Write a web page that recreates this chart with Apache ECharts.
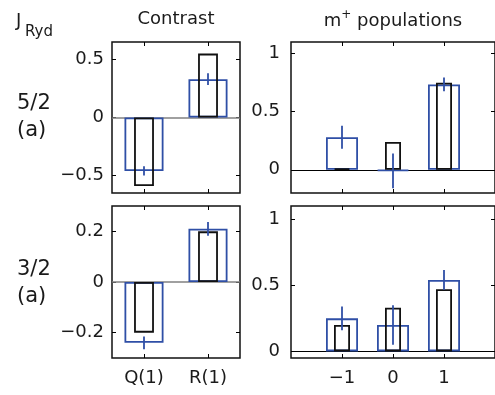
<!DOCTYPE html>
<html>
<head>
<meta charset="utf-8">
<script src="https://cdn.jsdelivr.net/npm/echarts@6/dist/echarts.min.js"></script>
<style>html,body{margin:0;padding:0;background:#fff}#c{width:495px;height:395px}</style>
</head>
<body>
<div id="c"></div>
<script>
// ---- data ----
var contrastCats = ['Q(1)', 'R(1)'];
var contrast52Meas = [-0.46, 0.33];
var contrast52Err = [0.04, 0.05];
var contrast52Theory = [-0.59, 0.55];
var contrast32Meas = [-0.24, 0.21];
var contrast32Err = [0.025, 0.027];
var contrast32Theory = [-0.20, 0.20];

var mValues = [-1, 0, 1];
var pop52Meas = [0.28, -0.01, 0.735];
var pop52Err = [0.10, 0.15, 0.06];
var pop52Theory = [0.01, 0.24, 0.75];
var pop32Meas = [0.25, 0.20, 0.54];
var pop32Err = [0.09, 0.15, 0.075];
var pop32Theory = [0.20, 0.33, 0.47];

var contrast52Ticks = [-0.5, 0, 0.5];
var contrast32Ticks = [-0.2, 0, 0.2];
var popTicks = [0, 0.5, 1];
var mTicks = [-1, 0, 1];

// ---- chart ----
var FONT = 'DejaVu Sans';
var BLUE = '#2f4fa6';
var chart = echarts.init(document.getElementById('c'), null, {renderer: 'canvas'});

function fmt(v) { return v < 0 ? '\u2212' + Math.abs(v) : String(v); }

var panels = [
  {grid: {left: 112, top: 42, width: 128, height: 151}, cat: true, ymin: -0.65, ymax: 0.65, yticks: contrast52Ticks,
   meas: contrast52Meas, err: contrast52Err, theory: contrast52Theory, showX: false, zeroColor: '#808080', labelMargin: 8},
  {grid: {left: 291, top: 42, width: 205, height: 151}, cat: false, ymin: -0.2, ymax: 1.1, yticks: popTicks,
   meas: pop52Meas, err: pop52Err, theory: pop52Theory, showX: false, zeroColor: '#000', labelMargin: 11},
  {grid: {left: 112, top: 206, width: 128, height: 152}, cat: true, ymin: -0.3, ymax: 0.3, yticks: contrast32Ticks,
   meas: contrast32Meas, err: contrast32Err, theory: contrast32Theory, showX: true, zeroColor: '#808080', labelMargin: 8},
  {grid: {left: 291, top: 206, width: 205, height: 152}, cat: false, ymin: -0.05, ymax: 1.1, yticks: popTicks,
   meas: pop32Meas, err: pop32Err, theory: pop32Theory, showX: true, zeroColor: '#000', labelMargin: 11}
];

var grids = [], xAxes = [], yAxes = [], series = [];
var tick = {show: true, inside: true, length: 4, lineStyle: {color: '#000', width: 1}};

panels.forEach(function (p, g) {
  grids.push(Object.assign({show: true, borderColor: '#111', borderWidth: 1.5, backgroundColor: 'transparent'}, p.grid));
  ['bottom', 'top'].forEach(function (pos, k) {
    var ax = {
      gridIndex: g, position: pos,
      axisLine: {show: false, onZero: false},
      splitLine: {show: false},
      axisLabel: {show: k === 0 && p.showX, color: '#1a1a1a', fontFamily: FONT, fontSize: 18, margin: 11},
      axisTick: Object.assign({}, tick)
    };
    if (p.cat) {
      ax.type = 'category'; ax.data = contrastCats; ax.axisTick.alignWithLabel = true;
    } else {
      ax.type = 'value'; ax.min = -2; ax.max = 2;
      ax.axisTick.customValues = mTicks; ax.axisLabel.customValues = mTicks;
      ax.axisLabel.formatter = fmt;
    }
    xAxes.push(ax);
  });
  ['left', 'right'].forEach(function (pos, k) {
    yAxes.push({
      gridIndex: g, type: 'value', position: pos, min: p.ymin, max: p.ymax,
      axisLine: {show: false, onZero: false},
      splitLine: {show: false},
      axisTick: Object.assign({customValues: p.yticks}, tick),
      axisLabel: {show: k === 0, customValues: p.yticks, formatter: fmt, color: '#1a1a1a',
                  fontFamily: FONT, fontSize: 18, margin: p.labelMargin}
    });
  });

  var measData = p.meas.map(function (v, i) { return p.cat ? v : [mValues[i], v]; });
  var theoryData = p.theory.map(function (v, i) { return p.cat ? v : [mValues[i], v]; });
  var errData = p.meas.map(function (v, i) { return [p.cat ? i : mValues[i], v, p.err[i]]; });

  series.push({
    type: 'bar', xAxisIndex: 2 * g, yAxisIndex: 2 * g, data: measData,
    barWidth: p.cat ? '61%' : 32, z: 2,
    itemStyle: {color: 'rgba(0,0,0,0)', borderColor: BLUE, borderWidth: 1.8},
    markLine: {silent: true, symbol: 'none', label: {show: false},
               lineStyle: {color: p.zeroColor, type: 'solid', width: p.cat ? 1.5 : 1},
               data: [{yAxis: 0}], z: 1},
    animation: false
  });
  series.push({
    type: 'bar', xAxisIndex: 2 * g + 1, yAxisIndex: 2 * g, data: theoryData,
    barWidth: p.cat ? '31%' : 16, z: 3,
    itemStyle: {color: 'rgba(0,0,0,0)', borderColor: '#111', borderWidth: 1.8},
    animation: false
  });
  series.push({
    type: 'custom', xAxisIndex: 2 * g, yAxisIndex: 2 * g, data: errData, z: 4,
    renderItem: function (params, api) {
      var x = api.value(0), y = api.value(1), e = api.value(2);
      var a = api.coord([x, y - e]), b = api.coord([x, y + e]);
      return {type: 'line', shape: {x1: a[0], y1: a[1], x2: b[0], y2: b[1]},
              style: {stroke: BLUE, lineWidth: 1.8}};
    },
    animation: false
  });
});

function txt(x, y, text, size, align, rich) {
  return {type: 'text', x: x, y: y, silent: true,
          style: {text: text, fontFamily: FONT, fontSize: size, fill: '#1a1a1a',
                   align: align || 'left', verticalAlign: 'middle', rich: rich}};
}

chart.setOption({
  animation: false,
  grid: grids, xAxis: xAxes, yAxis: yAxes, series: series,
  graphic: [
    txt(16, 21, 'J', 18),
    txt(25, 32, 'Ryd', 15),
    txt(176, 19.5, 'Contrast', 18, 'center'),
    txt(393, 19.5, '{a|m}{s|+}{a| populations}', 18, 'center',
        {a: {fontFamily: FONT, fontSize: 18, fill: '#1a1a1a', verticalAlign: 'bottom', lineHeight: 22},
         s: {fontFamily: FONT, fontSize: 12, fill: '#1a1a1a', verticalAlign: 'top', lineHeight: 22, padding: [0, 0, 10, 0]}}),
    txt(17, 104, '5/2', 21),
    txt(17, 131, '(a)', 21),
    txt(17, 269.5, '3/2', 21),
    txt(17, 296.5, '(a)', 21)
  ]
});
</script>
</body>
</html>
